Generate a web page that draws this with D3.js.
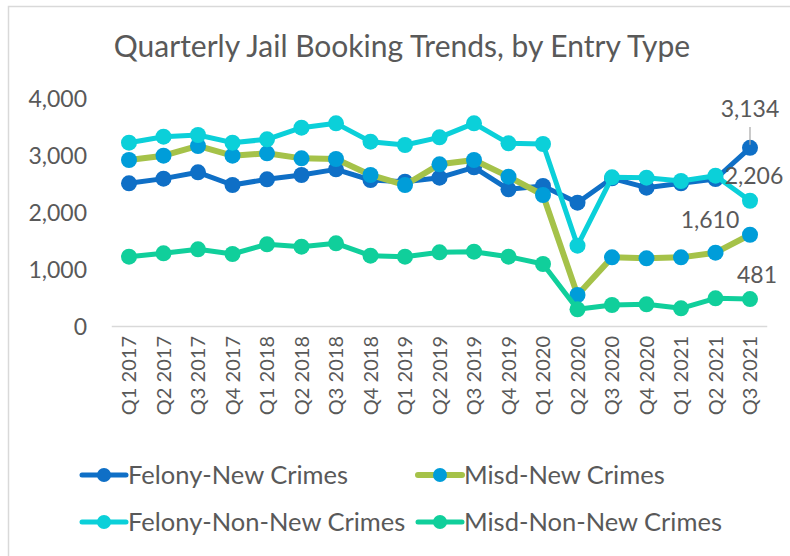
<!DOCTYPE html>
<html><head><meta charset="utf-8">
<script src="https://cdn.jsdelivr.net/npm/d3@7"></script>
<style>
html,body{margin:0;padding:0;background:#fff;}
svg text{font-family:Lato,"Open Sans",sans-serif;fill:#595959;}
</style></head>
<body><svg id="chart" width="790" height="556"></svg>
<script>
const quarters = ["Q1 2017","Q2 2017","Q3 2017","Q4 2017","Q1 2018","Q2 2018","Q3 2018","Q4 2018",
  "Q1 2019","Q2 2019","Q3 2019","Q4 2019","Q1 2020","Q2 2020","Q3 2020","Q4 2020","Q1 2021","Q2 2021","Q3 2021"];
const felonyNew    = [2512,2594,2705,2482,2582,2658,2757,2570,2540,2611,2793,2407,2465,2172,2600,2436,2512,2588,3134];
const misdNew      = [2921,2997,3167,2997,3038,2950,2939,2658,2482,2845,2921,2629,2307,553,1213,1196,1213,1295,1610];
const felonyNonNew = [3225,3330,3360,3225,3284,3488,3564,3243,3184,3319,3564,3214,3202,1418,2617,2611,2553,2646,2206];
const misdNonNew   = [1225,1284,1354,1272,1442,1400,1459,1243,1225,1301,1313,1225,1096,301,377,389,319,494,481];
const yTicks = [0,1000,2000,3000,4000];
const seriesNames = ["Felony-New Crimes","Misd-New Crimes","Felony-Non-New Crimes","Misd-Non-New Crimes"];
const title = "Quarterly Jail Booking Trends, by Entry Type";

const series = [
  {name:seriesNames[0], values:felonyNew,    line:"#0F6FC6", marker:"#0F6FC6", lw:5},
  {name:seriesNames[1], values:misdNew,      line:"#A5C249", marker:"#009DD9", lw:6},
  {name:seriesNames[2], values:felonyNonNew, line:"#0BD0D9", marker:"#0BD0D9", lw:5},
  {name:seriesNames[3], values:misdNonNew,   line:"#10CF9B", marker:"#10CF9B", lw:5}
];

const svg = d3.select("#chart");
svg.append("rect").attr("x",8.5).attr("y",6.5).attr("width",820).attr("height",600)
  .attr("fill","#fff").attr("stroke","#d9d9d9").attr("stroke-width",1.5);

const x = d3.scalePoint().domain(quarters).range([111.75,767.25]).padding(0.5);
const y = d3.scaleLinear().domain([0,4000]).range([326.5,98.5]);

svg.append("text").attr("x",402).attr("y",57).attr("text-anchor","middle")
  .style("font-size","30px").text(title);

// y tick labels
svg.append("g").selectAll("text").data(yTicks).join("text")
  .attr("x",87).attr("y",d=>y(d)).attr("dy","0.35em").attr("text-anchor","end")
  .style("font-size","23px").text(d3.format(","));

// x axis line
svg.append("line").attr("x1",111.75).attr("x2",767.25).attr("y1",y(0)).attr("y2",y(0))
  .attr("stroke","#d9d9d9").attr("stroke-width",1.5);

// x labels
svg.append("g").selectAll("text").data(quarters).join("text")
  .attr("transform",d=>`translate(${x(d)},336) rotate(-90)`)
  .attr("text-anchor","end").attr("dy","0.35em").style("font-size","20px").text(d=>d);

const lineGen = d3.line().x((d,i)=>x(quarters[i])).y(d=>y(d));
series.forEach(s=>{
  const g = svg.append("g");
  g.append("path").datum(s.values).attr("d",lineGen).attr("fill","none")
    .attr("stroke",s.line).attr("stroke-width",s.lw).attr("stroke-linejoin","round");
  g.selectAll("circle").data(s.values).join("circle")
    .attr("cx",(d,i)=>x(quarters[i])).attr("cy",d=>y(d)).attr("r",8).attr("fill",s.marker);
});

// data labels on last point
const last = quarters.length-1;
const lx = x(quarters[last]);
svg.append("line").attr("x1",lx).attr("x2",lx).attr("y1",127).attr("y2",y(felonyNew[last])-3)
  .attr("stroke","#a6a6a6").attr("stroke-width",1.2);
const labels = [
  {v:felonyNew[last], dx:0, dy:-31},
  {v:felonyNonNew[last], dx:4, dy:-17},
  {v:misdNew[last], dx:-40, dy:-7},
  {v:misdNonNew[last], dx:7, dy:-16}
];
svg.append("g").selectAll("text").data(labels).join("text")
  .attr("x",d=>lx+d.dx).attr("y",d=>y(d.v)+d.dy).attr("text-anchor","middle")
  .style("font-size","23px").text(d=>d3.format(",")(d.v));

// legend
const legPos = [[82,475],[418,475],[82,522],[418,522]];
series.forEach((s,i)=>{
  const [lx0,ly] = legPos[i];
  const g = svg.append("g");
  g.append("line").attr("x1",lx0).attr("x2",lx0+44).attr("y1",ly).attr("y2",ly)
    .attr("stroke",s.line).attr("stroke-width",s.lw).attr("stroke-linecap","round");
  g.append("circle").attr("cx",lx0+22).attr("cy",ly).attr("r",7).attr("fill",s.marker);
  g.append("text").attr("x",lx0+46).attr("y",ly).attr("dy","0.35em").style("font-size","25.5px").text(s.name);
});
</script></body></html>
